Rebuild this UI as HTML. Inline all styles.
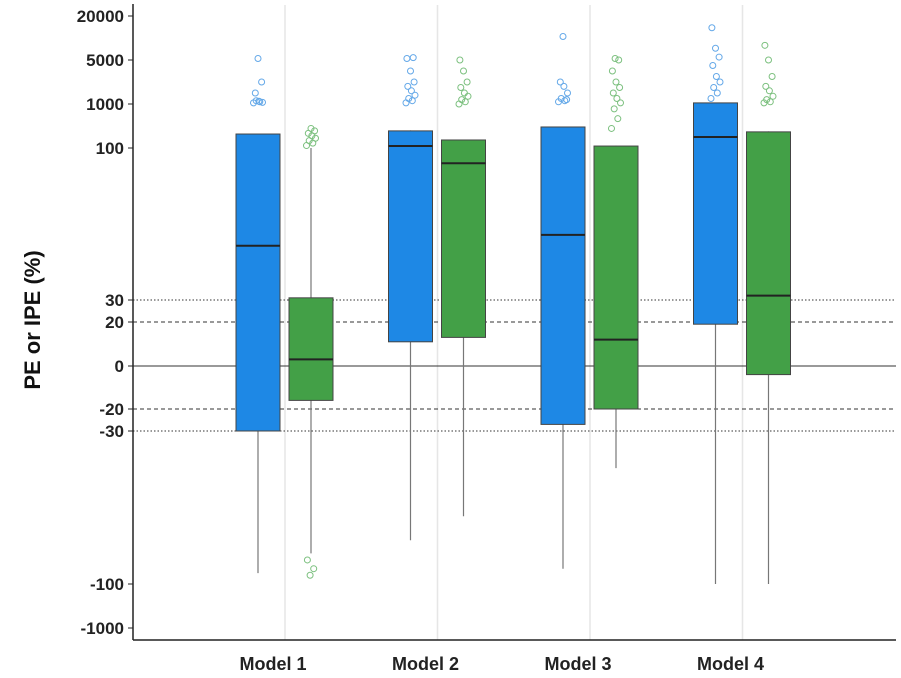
<!DOCTYPE html>
<html><head><meta charset="utf-8"><style>
html,body{margin:0;padding:0;background:#fff;}
svg{display:block;font-family:"Liberation Sans",Arial,sans-serif;}
</style></head><body>
<svg id="chart" width="901" height="678"></svg>
<script>
const models=["Model 1","Model 2","Model 3","Model 4"];
const tickValues=[-1000,-100,-30,-20,0,20,30,100,1000,5000,20000];
const tickLabels=["-1000","-100","-30","-20","0","20","30","100","1000","5000","20000"];
const blueLow=[-95,-80,-93,-100];
const blueQ1=[-30,11,-27,19];
const blueMed=[55,140,60,325];
const blueQ3=[386,450,530,1100];
const blueHigh=[390,460,540,1120];
const greenLow=[-86,-69,-47,-100];
const greenQ1=[-16,13,-20,-4];
const greenMed=[3,93,12,32];
const greenQ3=[31,264,140,430];
const greenHigh=[100,270,145,440];
const blueOut=[[1100,1200,1300,1150,1250,2000,3000,5500],[1100,1300,1500,1800,2200,2600,3000,4000,5500,5800],[1200,1300,1500,2000,2600,3000,1400,13000],[1500,2000,2500,3000,3500,4500,6000,9000,16000]];
const greenOut=[[150,200,250,300,350,400,450,500,-89,-93,-96],[1000,1200,1400,1700,2000,2500,3000,4000,5000],[500,700,900,1100,1500,2000,2500,3000,4000,5000,5500],[1100,1200,1400,1700,2200,2600,3500,5000,10000]];
const knotPx=[628,584,431,409,366,322,300,148,104,60,16];
function y(v){
  if(v<=tickValues[0])return knotPx[0];
  for(let i=0;i<tickValues.length-1;i++){
    const a=tickValues[i],b=tickValues[i+1];
    if(v>=a&&v<=b)return knotPx[i]+(v-a)/(b-a)*(knotPx[i+1]-knotPx[i]);
  }
  return knotPx[knotPx.length-1];
}
const x0=133,step=152.5,first=285;
function xc(i){return first+i*step;}
const svg=document.getElementById('chart');
const NS="http://www.w3.org/2000/svg";
function mk(tag,attrs,parent){const e=document.createElementNS(NS,tag);for(const k in attrs)e.setAttribute(k,attrs[k]);(parent||svg).appendChild(e);return e;}
models.forEach((m,i)=>{const l=mk('line',{x1:xc(i),x2:xc(i),y1:5,y2:640,stroke:'#e6e6e6','stroke-width':1.5});

});
[[30,'1.5,2'],[-30,'1.5,2'],[20,'4,3'],[-20,'4,3'],[0,'']].forEach(([v,d])=>{
  const l=mk('line',{x1:x0,x2:896,y1:y(v),y2:y(v),stroke:'#333','stroke-width':1,'stroke-dasharray':d});
  
  
});
function box(cx,low,q1,med,q3,high,fill,name){
  const g=mk('g',{});
  
  
  mk('line',{x1:cx,x2:cx,y1:y(low),y2:y(high),stroke:'#777','stroke-width':1.2},g);
  mk('rect',{x:cx-22,y:y(q3),width:44,height:y(q1)-y(q3),fill:fill,stroke:'#444','stroke-width':1},g);
  mk('line',{x1:cx-22,x2:cx+22,y1:y(med),y2:y(med),stroke:'#222','stroke-width':2},g);
}
function pts(cx,vals,col,name){
  vals.forEach((v,j)=>{
    const c=mk('circle',{cx:cx+((j*7)%11-5)*0.9,cy:y(v),r:3,fill:'none',stroke:col,'stroke-width':1});
    
    
  });
}
models.forEach((m,i)=>{
  const bx=xc(i)-27,gx=xc(i)+26;
  box(bx,blueLow[i],blueQ1[i],blueMed[i],blueQ3[i],blueHigh[i],'#1e88e5','box-pe-model-'+(i+1));
  box(gx,greenLow[i],greenQ1[i],greenMed[i],greenQ3[i],greenHigh[i],'#43a047','box-ipe-model-'+(i+1));
  pts(bx,blueOut[i],'#64a8e8','outlier-pe');
  pts(gx,greenOut[i],'#7cc07f','outlier-ipe');
  const t=mk('text',{x:xc(i)-12,y:670,'text-anchor':'middle','font-size':18,'font-weight':'bold',fill:'#222'});
  t.textContent=m;
  
  
});
const ax=mk('line',{x1:x0,x2:x0,y1:4,y2:640,stroke:'#222','stroke-width':1.5});


const bx=mk('line',{x1:x0,x2:896,y1:640,y2:640,stroke:'#222','stroke-width':1.5});


tickValues.forEach((v,i)=>{
  mk('line',{x1:x0-5,x2:x0,y1:y(v),y2:y(v),stroke:'#222','stroke-width':1});
  const t=mk('text',{x:x0-9,y:y(v)+6,'text-anchor':'end','font-size':17,'font-weight':'bold',fill:'#222'});
  t.textContent=tickLabels[i];
  
  
});
const yl=mk('text',{x:0,y:0,transform:'translate(40,320) rotate(-90)','text-anchor':'middle','font-size':22,'font-weight':'bold',fill:'#111'});
yl.textContent='PE or IPE (%)';


</script>
</body></html>
